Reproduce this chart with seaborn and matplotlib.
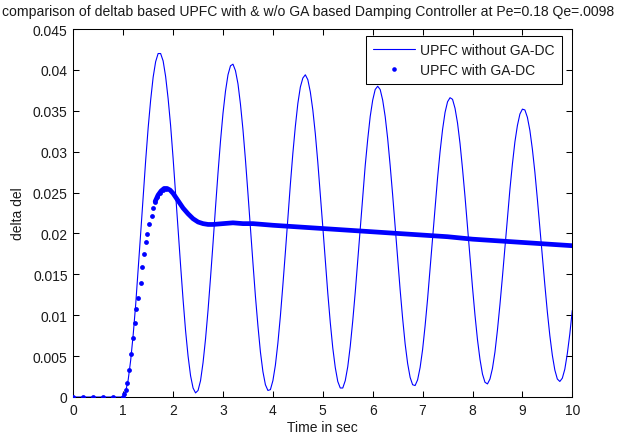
import numpy as np
import pandas as pd
import matplotlib
matplotlib.use("Agg")
import matplotlib.pyplot as plt
import seaborn as sns
from matplotlib.lines import Line2D
from matplotlib.ticker import FixedLocator, FixedFormatter

# ---------------- data ----------------
title = "comparison of deltab based UPFC with & w/o GA based Damping Controller at Pe=0.18 Qe=.0098"
x_label = "Time in sec"
y_label = "delta del"
series_names = ["UPFC without GA-DC", "UPFC with GA-DC"]

x_ticks = [0, 1, 2, 3, 4, 5, 6, 7, 8, 9, 10]
y_ticks = [0, 0.005, 0.01, 0.015, 0.02, 0.025, 0.03, 0.035, 0.04, 0.045]
y_tick_labels = ["0", "0.005", "0.01", "0.015", "0.02", "0.025", "0.03", "0.035", "0.04", "0.045"]

# UPFC without GA-DC: flat at zero until t=1, then sampled every 0.05 s
t_nodc = [0.0] + list(np.round(np.arange(1.0, 10.0001, 0.05), 2))
v_nodc = [0.0,
    0.0000, 0.0007, 0.0021, 0.0045, 0.0076, 0.0113, 0.0156, 0.0200, 0.0245, 0.0289,
    0.0329, 0.0363, 0.0391, 0.0410, 0.0420, 0.0420, 0.0411, 0.0392, 0.0365, 0.0332,
    0.0292, 0.0249, 0.0205, 0.0161, 0.0119, 0.0081, 0.0050, 0.0026, 0.0011, 0.0005,
    0.0008, 0.0020, 0.0042, 0.0071, 0.0106, 0.0146, 0.0188, 0.0232, 0.0274, 0.0313,
    0.0347, 0.0374, 0.0394, 0.0405, 0.0407, 0.0399, 0.0383, 0.0358, 0.0327, 0.0290,
    0.0249, 0.0206, 0.0164, 0.0123, 0.0087, 0.0055, 0.0031, 0.0015, 0.0008, 0.0009,
    0.0020, 0.0039, 0.0066, 0.0099, 0.0137, 0.0177, 0.0219, 0.0260, 0.0298, 0.0331,
    0.0359, 0.0379, 0.0390, 0.0394, 0.0388, 0.0373, 0.0351, 0.0322, 0.0287, 0.0248,
    0.0208, 0.0167, 0.0127, 0.0091, 0.0060, 0.0036, 0.0019, 0.0011, 0.0011, 0.0020,
    0.0037, 0.0062, 0.0093, 0.0128, 0.0167, 0.0206, 0.0246, 0.0283, 0.0315, 0.0343,
    0.0363, 0.0376, 0.0380, 0.0376, 0.0363, 0.0343, 0.0316, 0.0283, 0.0247, 0.0208,
    0.0169, 0.0131, 0.0096, 0.0065, 0.0041, 0.0024, 0.0015, 0.0014, 0.0021, 0.0036,
    0.0058, 0.0087, 0.0120, 0.0157, 0.0195, 0.0232, 0.0268, 0.0300, 0.0327, 0.0348,
    0.0361, 0.0366, 0.0364, 0.0353, 0.0335, 0.0310, 0.0279, 0.0245, 0.0208, 0.0171,
    0.0134, 0.0100, 0.0070, 0.0046, 0.0028, 0.0018, 0.0016, 0.0022, 0.0035, 0.0055,
    0.0082, 0.0113, 0.0147, 0.0183, 0.0219, 0.0254, 0.0285, 0.0312, 0.0332, 0.0346,
    0.0352, 0.0351, 0.0342, 0.0326, 0.0303, 0.0275, 0.0242, 0.0207, 0.0172, 0.0137,
    0.0104, 0.0075, 0.0051, 0.0033, 0.0022, 0.0019, 0.0023, 0.0034, 0.0053, 0.0077,
    0.0106]

# UPFC with GA-DC: sparse solver points (distinct dots)
t_dc_sparse = [0.0, 0.2, 0.4, 0.6, 0.8, 1.0, 1.017, 1.05, 1.07, 1.117, 1.157, 1.204,
               1.244, 1.264, 1.304, 1.351, 1.378, 1.418, 1.458, 1.484, 1.524, 1.572,
               1.598, 1.638, 1.685, 1.738, 1.805, 1.859]
v_dc_sparse = [0.0, 0.0, 0.0, 0.0, 0.0, 0.0, 0.0004, 0.0009, 0.0017, 0.0033, 0.0052, 0.0072,
               0.0091, 0.0107, 0.0121, 0.0140, 0.0159, 0.0175, 0.0189, 0.0199, 0.0211, 0.0221,
               0.0231, 0.0239, 0.0245, 0.0250, 0.0253, 0.0254]
# UPFC with GA-DC: dense part (dots merge into a thick band)
t_dc_dense = [1.64, 1.70, 1.76, 1.82, 1.88, 1.94, 2.00, 2.10, 2.20, 2.30, 2.40, 2.50,
              2.60, 2.70, 2.80, 3.00, 3.20, 3.40, 3.60, 3.80, 4.00, 4.50, 5.00, 5.50,
              6.00, 6.50, 7.00, 7.50, 8.00, 8.50, 9.00, 9.50, 10.00]
v_dc_dense = [0.0239, 0.0247, 0.0252, 0.0255, 0.0255, 0.0253, 0.0249, 0.0240, 0.0231,
              0.0224, 0.0218, 0.0214, 0.0212, 0.0211, 0.0211, 0.0212, 0.0213, 0.0212,
              0.0212, 0.0211, 0.0210, 0.0208, 0.0206, 0.0204, 0.0202, 0.0200, 0.0198,
              0.0196, 0.0193, 0.0191, 0.0189, 0.0187, 0.0185]

# ---------------- figure ----------------
sns.set_style("white")
plt.rcParams["font.family"] = ["Liberation Sans", "DejaVu Sans"]
plt.rcParams["font.size"] = 10

W, H = 642, 439
fig = plt.figure(figsize=(W / 100, H / 100), dpi=100)
fig.patch.set_facecolor("white")
ax_l, ax_r, ax_t, ax_b = 73.3, 572.3, 30.0, 398.0
ax = fig.add_axes([ax_l / W, 1 - ax_b / H, (ax_r - ax_l) / W, (ax_b - ax_t) / H])

BLUE = "#0000ff"
df_nodc = pd.DataFrame({"t": t_nodc, "v": v_nodc})
df_sparse = pd.DataFrame({"t": t_dc_sparse, "v": v_dc_sparse})
df_dense = pd.DataFrame({"t": t_dc_dense, "v": v_dc_dense})

sns.lineplot(data=df_dense, x="t", y="v", ax=ax, color=BLUE, linewidth=3.4,
             estimator=None, sort=False, solid_capstyle="round", zorder=2)
sns.scatterplot(data=df_sparse, x="t", y="v", ax=ax, color=BLUE, s=12,
                linewidth=0, zorder=3)
sns.lineplot(data=df_nodc, x="t", y="v", ax=ax, color=BLUE, linewidth=0.8,
             estimator=None, sort=False, zorder=4)

ax.set_xlim(0, 10)
ax.set_ylim(0, 0.045)
ax.xaxis.set_major_locator(FixedLocator(x_ticks))
ax.xaxis.set_major_formatter(FixedFormatter([str(v) for v in x_ticks]))
ax.yaxis.set_major_locator(FixedLocator(y_ticks))
ax.yaxis.set_major_formatter(FixedFormatter(y_tick_labels))

ax.tick_params(axis="both", which="major", direction="in", length=4, width=0.75,
               color="black", labelsize=10, labelcolor="#1a1a1a",
               bottom=True, left=True, top=True, right=True, pad=4)
for sp in ax.spines.values():
    sp.set_visible(True)
    sp.set_color("black")
    sp.set_linewidth(0.75)

ax.set_xlabel(x_label, fontsize=10, color="#1a1a1a")
ax.set_ylabel(y_label, fontsize=10, color="#1a1a1a")
ax.xaxis.set_label_coords(0.5, -0.062)
ax.yaxis.set_label_coords(-0.097, 0.5)

fig.text(2 / W, 1 - 12 / H, title, ha="left", va="center", fontsize=10.1, color="#1a1a1a")

handles = [Line2D([], [], color=BLUE, linewidth=0.8),
           Line2D([], [], color=BLUE, linestyle="none", marker="o", markersize=3.3,
                  markeredgewidth=0)]
leg = ax.legend(handles, series_names, loc="upper right", bbox_to_anchor=(0.979, 0.980),
                borderaxespad=0, frameon=True, fancybox=False, edgecolor="black",
                framealpha=1, handlelength=3.0, handletextpad=0.4, borderpad=0.5,
                labelspacing=0.4, fontsize=10)
leg.get_frame().set_linewidth(0.75)
for txt in leg.get_texts():
    txt.set_color("#1a1a1a")

fig.savefig("out.png", dpi=100)
